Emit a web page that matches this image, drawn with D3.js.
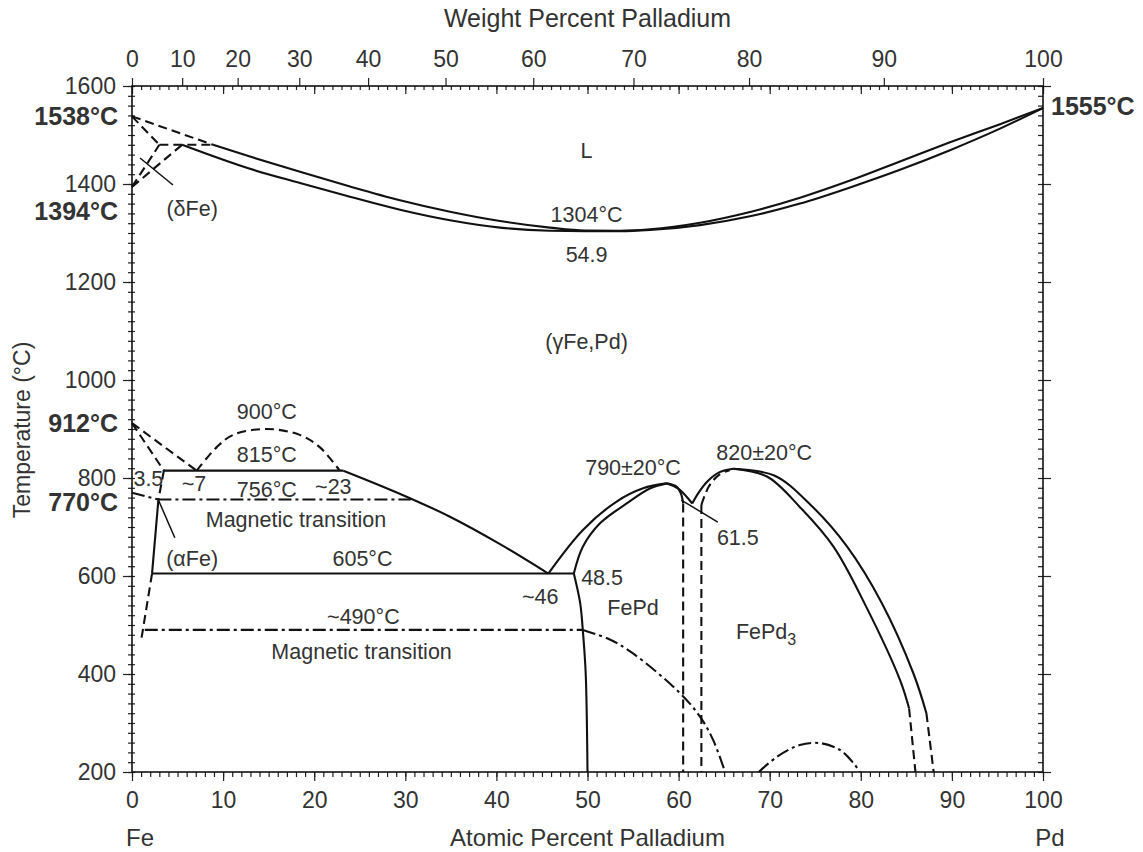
<!DOCTYPE html>
<html>
<head>
<meta charset="utf-8">
<script src="https://cdn.jsdelivr.net/npm/d3@7"></script>
<style>
  body { margin: 0; background: #fff; }
  svg text { font-family: "Liberation Sans", Arial, Helvetica, sans-serif; fill: #333; }
</style>
</head>
<body>
<svg id="chart" width="1143" height="852"></svg>
<script>
// ---- tick values ----
const atTicks = d3.range(0, 101, 10);
const wtTicks = [0, 10, 20, 30, 40, 50, 60, 70, 80, 90, 100];
const tempTicks = [200, 400, 600, 800, 1000, 1200, 1400, 1600];

// ---- phase boundaries, [atomic % Pd, temperature °C] ----
const liquidusFe = [[0, 1538], [8.9, 1480]];
const deltaSolidus = [[0, 1538], [3.0, 1480]];
const peritectic = [[3.0, 1480], [8.9, 1480]];
const deltaSolvus = [[0, 1394], [3.0, 1480]];
const gammaDeltaLine = [[0, 1394], [5.5, 1480]];
const liquidus = [[8.9, 1480], [12.95, 1456], [18.44, 1425], [23.93, 1395], [29.42, 1367], [34.91, 1343.5],
  [40.4, 1324.5], [45.88, 1311], [49.73, 1305], [53.57, 1304.5], [56.86, 1307.5], [62.35, 1321],
  [67.84, 1343], [73.33, 1372], [78.82, 1407], [84.3, 1446], [89.79, 1485], [95.28, 1522], [100, 1555]];
const solidus = [[5.5, 1480], [12.95, 1431], [18.44, 1402], [23.93, 1374], [29.42, 1347.5], [34.91, 1326],
  [40.4, 1311], [45.88, 1304.5], [49.73, 1303.5], [53.57, 1303.5], [56.86, 1306], [62.35, 1316],
  [67.84, 1334], [73.33, 1360], [78.82, 1393], [84.3, 1429], [89.79, 1469], [95.28, 1513], [100, 1555]];

const alphaTop = [[0, 912], [3.5, 815]];
const gammaTop = [[0, 912], [7.1, 815]];
const dome900 = [[7.1, 815], [9.3, 863], [11.1, 888], [14.8, 900], [18.4, 888], [20.6, 863], [22.8, 815]];
const line815 = [[3.5, 815], [23.2, 815]];
const gammaSolvus = [[23.2, 815], [29, 771], [34.9, 721], [40.4, 665], [45.7, 605]];
const alphaDashTop = [[3.5, 815], [2.9, 756]];
const alphaSolid = [[2.9, 756], [2.2, 605]];
const alphaDashLow = [[2.2, 605], [1.0, 468]];
const line605 = [[2.2, 605], [48.5, 605]];
const mag770 = [[0, 770], [2.9, 756]];
const mag756 = [[2.9, 756], [30.6, 756]];
const mag490 = [[1.4, 490], [49.5, 490]];
const mag490Curve = [[49.5, 490], [52.5, 470], [55, 442], [60.15, 361], [62.35, 313], [63.8, 265], [65.1, 200]];
const boundary50 = [[48.5, 605], [49.2, 544], [49.5, 486], [49.8, 402], [50, 200]];

const fepdOuterLeft = [[45.7, 605], [49.5, 694], [53.2, 752], [56.1, 779], [58.7, 789]];
const fepdInnerLeft = [[48.5, 605], [49.5, 660], [51.4, 708], [54.3, 748], [56.9, 779], [58.7, 789]];
const fepdRight = [[58.7, 789], [59.8, 782], [60.3, 766], [60.5, 748]];
const fepdRightLow = [[60.5, 748], [60.5, 200]];
const fepdGammaRight = [[58.7, 789], [60, 778], [61.5, 748]];

const fepd3GammaLeft = [[61.5, 748], [62.2, 770], [63.1, 792], [64.5, 812], [66, 819]];
const fepd3InnerLeft = [[62.5, 745], [63.3, 782], [64.4, 806], [65.6, 816]];
const fepd3LeftLow = [[62.5, 745], [62.5, 200]];
const fepd3Inner = [[66, 819], [69.7, 803], [73.3, 741], [77, 660], [80.6, 537], [84.3, 388], [85.3, 330]];
const fepd3InnerLow = [[85.3, 330], [86, 200]];
const fepd3Outer = [[66, 819], [70.5, 805], [74.5, 745], [78.5, 660], [82.3, 545], [85.8, 400], [87.2, 320]];
const fepd3OuterLow = [[87.2, 320], [88, 200]];
const magFePd3 = [[68.8, 200], [70.8, 231], [73.3, 255], [75.5, 259], [77.7, 245], [79.2, 218], [79.9, 200]];

// leader lines
const ptrDelta = [[0.88, 1453], [4.5, 1398]];
const ptrAlpha = [[2.9, 755], [4.7, 678]];
const ptr615 = [[60.3, 755], [64.3, 710]];

// ---- labels [text, at%, °C] ----
const regionLabels = [
  ["L", 49.9, 1469], ["1304°C", 49.9, 1337], ["54.9", 49.9, 1257], ["(γFe,Pd)", 49.9, 1078],
  ["(δFe)", 6.6, 1351], ["900°C", 14.8, 935], ["815°C", 14.8, 847], ["~7", 6.8, 788],
  ["3.5", 1.8, 800], ["756°C", 14.8, 776], ["~23", 22.1, 783], ["Magnetic transition", 18.0, 716],
  ["(αFe)", 6.6, 636], ["605°C", 25.3, 636], ["~46", 44.8, 558], ["48.5", 51.6, 598],
  ["FePd", 55.0, 535], ["~490°C", 25.4, 518], ["Magnetic transition", 25.2, 445],
  ["790±20°C", 55.0, 821], ["820±20°C", 69.4, 852], ["61.5", 66.5, 678]
];
const meltLabels = [["1538°C", 1538], ["1394°C", 1394], ["912°C", 912], ["770°C", 770]];

// ---- setup ----
const svg = d3.select("#chart");
const x = d3.scaleLinear().domain([0, 100]).range([132, 1043]);
const y = d3.scaleLinear().domain([200, 1600]).range([772, 86]);

// weight % -> atomic % Pd (Fe 55.845, Pd 106.42)
function wtToAt(w) {
  const a = w / 106.42, b = (100 - w) / 55.845;
  return (100 * a) / (a + b);
}
const wtAll = d3.range(0, 101, 1);
const xWt = d3.scaleLinear().domain(wtAll).range(wtAll.map((w) => x(wtToAt(w))));

function noDomain(g) { g.select(".domain").remove(); }
function styleTicks(g) {
  g.selectAll("line").attr("stroke", "#222").attr("stroke-width", 1.2);
  g.selectAll("text").attr("font-size", 23).attr("fill", "#333");
}

// bottom axis
svg.append("g").attr("transform", "translate(0,772)")
  .call(d3.axisBottom(x).tickValues(d3.range(0, 101, 1)).tickSize(5).tickFormat(""))
  .call(noDomain).call(styleTicks);
svg.append("g").attr("transform", "translate(0,772)")
  .call(d3.axisBottom(x).tickValues(atTicks).tickSize(9).tickPadding(11))
  .call(noDomain).call(styleTicks);

// top axis: at% ticks inside, wt% labels outside
svg.append("g").attr("transform", "translate(0,86)")
  .call(d3.axisBottom(x).tickValues(d3.range(0, 101, 1)).tickSize(4).tickFormat(""))
  .call(noDomain).call(styleTicks);
svg.append("g").attr("transform", "translate(0,86)")
  .call(d3.axisBottom(x).tickValues(atTicks).tickSize(8).tickFormat(""))
  .call(noDomain).call(styleTicks);
svg.append("g").attr("transform", "translate(0,86)")
  .call(d3.axisTop(xWt).tickValues(wtTicks).tickSize(8).tickPadding(11).tickFormat(d3.format("d")))
  .call(noDomain).call(styleTicks);

// left axis
svg.append("g").attr("transform", "translate(132,0)")
  .call(d3.axisLeft(y).tickValues(d3.range(200, 1601, 20)).tickSize(4).tickFormat(""))
  .call(noDomain).call(styleTicks);
svg.append("g").attr("transform", "translate(132,0)")
  .call(d3.axisRight(y).tickValues(d3.range(200, 1601, 20)).tickSize(3).tickFormat(""))
  .call(noDomain).call(styleTicks);
svg.append("g").attr("transform", "translate(132,0)")
  .call(d3.axisLeft(y).tickValues(tempTicks).tickSize(9).tickPadding(7).tickFormat(d3.format("d")))
  .call(noDomain).call(styleTicks);

// right axis
svg.append("g").attr("transform", "translate(1043,0)")
  .call(d3.axisLeft(y).tickValues(d3.range(200, 1601, 20)).tickSize(5).tickFormat(""))
  .call(noDomain).call(styleTicks);
svg.append("g").attr("transform", "translate(1043,0)")
  .call(d3.axisRight(y).tickValues(tempTicks).tickSize(8).tickFormat(""))
  .call(noDomain).call(styleTicks);

// frame
svg.append("rect")
  .attr("x", x(0)).attr("y", y(1600))
  .attr("width", x(100) - x(0)).attr("height", y(200) - y(1600))
  .attr("fill", "none").attr("stroke", "#111").attr("stroke-width", 1.6);

// ---- phase boundaries ----
const plot = svg.append("g");
const dashStyle = { solid: null, dash: "9,5", dashdot: "13,4,3,4" };
const curves = {
  straight: d3.curveLinear,
  smooth: d3.curveCatmullRom.alpha(0.5),
  mono: d3.curveMonotoneX
};

function draw(points, style, curve, width) {
  const line = d3.line()
    .x((d) => x(d[0]))
    .y((d) => y(d[1]))
    .curve(curves[curve || "straight"]);
  plot.append("path")
    .datum(points)
    .attr("d", line)
    .attr("fill", "none")
    .attr("stroke", "#111")
    .attr("stroke-width", width || 2.1)
    .attr("stroke-dasharray", dashStyle[style])
    .attr("stroke-linejoin", "round");
}

draw(liquidusFe, "dash");
draw(deltaSolidus, "dash");
draw(peritectic, "dash");
draw(deltaSolvus, "dash");
draw(gammaDeltaLine, "dash");
draw(liquidus, "solid", "mono");
draw(solidus, "solid", "mono");

draw(alphaTop, "dash");
draw(gammaTop, "dash");
draw(dome900, "dash", "smooth");
draw(line815, "solid");
draw(gammaSolvus, "solid", "mono");
draw(alphaDashTop, "dash");
draw(alphaSolid, "solid");
draw(alphaDashLow, "dash");
draw(line605, "solid");
draw(mag770, "dashdot");
draw(mag756, "dashdot");
draw(mag490, "dashdot");
draw(mag490Curve, "dashdot", "smooth");
draw(boundary50, "solid", "smooth");

draw(fepdOuterLeft, "solid", "smooth");
draw(fepdInnerLeft, "solid", "smooth");
draw(fepdRight, "solid", "smooth");
draw(fepdRightLow, "dash");
draw(fepdGammaRight, "solid", "smooth");
draw(fepd3GammaLeft, "solid", "smooth");
draw(fepd3InnerLeft, "dash", "smooth");
draw(fepd3LeftLow, "dash");
draw(fepd3Inner, "solid", "smooth");
draw(fepd3InnerLow, "dash");
draw(fepd3Outer, "solid", "smooth");
draw(fepd3OuterLow, "dash");
draw(magFePd3, "dashdot", "smooth");

draw(ptrDelta, "solid", "straight", 1.5);
draw(ptrAlpha, "solid", "straight", 1.5);
draw(ptr615, "solid", "straight", 1.5);

// ---- labels ----
const lab = svg.append("g").attr("font-size", 21.5).attr("text-anchor", "middle");
regionLabels.forEach(([t, a, T]) => {
  lab.append("text").attr("x", x(a)).attr("y", y(T)).attr("dy", "0.35em").text(t);
});
// FePd3 with subscript
const fp3 = lab.append("text").attr("x", x(69.6)).attr("y", y(486)).attr("dy", "0.35em");
fp3.append("tspan").text("FePd");
fp3.append("tspan").attr("font-size", 16).attr("dy", "0.35em").text("3");

const bold = svg.append("g").attr("font-size", 25).attr("font-weight", "bold");
const meltOffsets = [0, 24, 0, 10];
meltLabels.forEach(([t, T], i) => {
  bold.append("text")
    .attr("x", 118).attr("y", y(T) + meltOffsets[i])
    .attr("dy", "0.35em").attr("text-anchor", "end").attr("fill", "#111").text(t);
});
bold.append("text").attr("x", 1051).attr("y", y(1555) - 2).attr("dy", "0.35em")
  .attr("fill", "#111").text("1555°C");

// axis titles
svg.append("text").attr("x", x(50)).attr("y", 18).attr("dy", "0.35em")
  .attr("text-anchor", "middle").attr("font-size", 25).text("Weight Percent Palladium");
const bottomTitles = svg.append("g").attr("font-size", 24).attr("text-anchor", "middle");
bottomTitles.append("text").attr("x", x(50)).attr("y", 846).text("Atomic Percent Palladium");
bottomTitles.append("text").attr("x", 140).attr("y", 846).text("Fe");
bottomTitles.append("text").attr("x", 1050).attr("y", 846).text("Pd");
svg.append("text")
  .attr("transform", "translate(22,430) rotate(-90)")
  .attr("dy", "0.35em").attr("text-anchor", "middle").attr("font-size", 23)
  .text("Temperature (°C)");
</script>
</body>
</html>
